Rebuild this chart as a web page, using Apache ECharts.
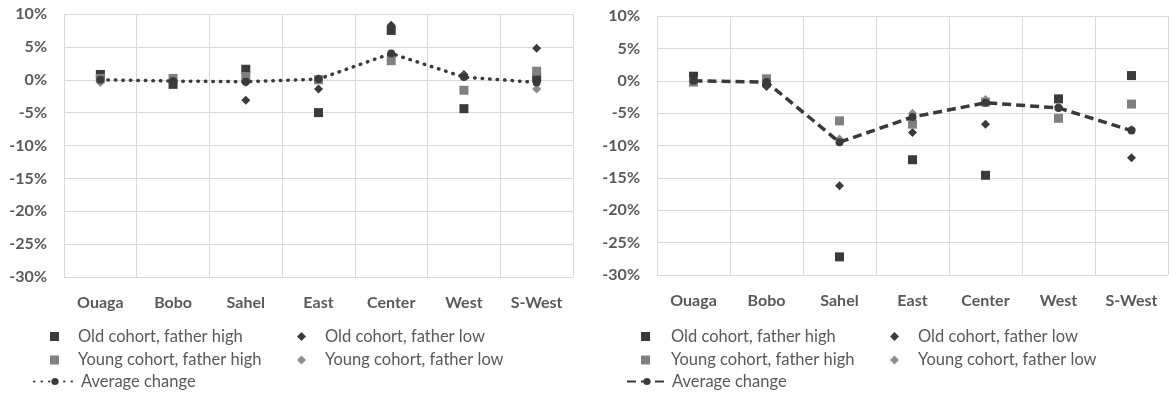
<!DOCTYPE html>
<html>
<head>
<meta charset="utf-8">
<script src="https://cdn.jsdelivr.net/npm/echarts@6/dist/echarts.min.js"></script>
<style>
  html, body { margin: 0; padding: 0; background: #fff; }
  #chart { width: 1169px; height: 394px; }
</style>
</head>
<body>
<div id="chart"></div>
<script>
// regions (categories)
const regions = ["Ouaga", "Bobo", "Sahel", "East", "Center", "West", "S-West"];

// left panel, change in %
const oldHighA = [0.8, -0.7, 1.6, -5.0, 7.5, -4.4, 0.3];
const oldLowA = [0.0, -0.3, -3.1, -1.4, 8.3, 0.8, 4.8];
const youngHighA = [0.2, 0.2, 0.5, 0.0, 2.9, -1.6, 1.3];
const youngLowA = [-0.4, -0.2, -0.4, 0.2, 3.8, 0.5, -1.4];
const avgA = [0.0, -0.2, -0.3, 0.1, 4.0, 0.4, -0.4];

// right panel, change in %
const oldHighB = [0.7, -0.2, -27.2, -12.2, -14.6, -2.8, 0.8];
const oldLowB = [0.0, -0.9, -16.2, -8.0, -6.7, -4.0, -11.9];
const youngHighB = [-0.2, 0.3, -6.2, -6.7, -3.3, -5.8, -3.6];
const youngLowB = [-0.1, -0.2, -9.0, -5.0, -2.9, -4.0, -7.5];
const avgB = [0.0, -0.2, -9.5, -5.6, -3.4, -4.2, -7.7];

// y axis ticks
const yMin = -30, yMax = 10, yStep = 5;

const NAMES = {
  oh: "Old cohort, father high",
  ol: "Old cohort, father low",
  yh: "Young cohort, father high",
  yl: "Young cohort, father low",
  avg: "Average change"
};

const DARK = "#3a3a3a";
const GREY = "#808080";
const LIGHT = "#8c8c8c";
const GRID = "#d9d9d9";
const TXT = "#595959";
const FONT = "Lato";

function scatter(name, data, idx, symbol, size, color) {
  return {
    name, type: "scatter", data, xAxisIndex: idx, yAxisIndex: idx,
    symbol, symbolSize: size, itemStyle: { color, opacity: 1 }
  };
}

function avgLine(data, idx, dash, width) {
  return {
    name: NAMES.avg, type: "line", data, xAxisIndex: idx, yAxisIndex: idx,
    symbol: "circle", symbolSize: 8, showSymbol: true,
    itemStyle: { color: DARK },
    lineStyle: { color: DARK, width, type: dash, cap: dash[0] < 1 ? "round" : "butt" }
  };
}

function xAxis(idx) {
  return {
    type: "category", gridIndex: idx, data: regions,
    axisTick: { show: false },
    axisLine: { lineStyle: { color: GRID } },
    splitLine: { show: true, lineStyle: { color: GRID } },
    axisLabel: { color: TXT, fontFamily: FONT, fontSize: 16, fontWeight: "bold", margin: 18 }
  };
}

function yAxis(idx) {
  return {
    type: "value", gridIndex: idx, min: yMin, max: yMax, interval: yStep,
    axisLine: { show: false }, axisTick: { show: false },
    splitLine: { lineStyle: { color: GRID } },
    axisLabel: { color: TXT, fontFamily: FONT, fontSize: 16, fontWeight: "bold",
      margin: 17, formatter: "{value}%" }
  };
}

function legendText(pad) {
  return {
    color: TXT, fontFamily: FONT, fontSize: 16.5, lineHeight: 16,
    rich: { p: { width: pad } }
  };
}

function legendCol(names, left, top, icon, pad) {
  return {
    orient: "vertical", left, top, padding: 0, itemGap: 6.5,
    itemWidth: 9, itemHeight: 9, icon,
    formatter: "{p| }{name}",
    textStyle: legendText(pad),
    data: names
  };
}

function legendAvg(left, width, dash, cap) {
  return {
    left, top: 373, padding: 0, itemWidth: width, itemHeight: 9,
    formatter: "{name}",
    textStyle: legendText(0),
    data: [{ name: NAMES.avg, lineStyle: { type: dash, cap } }]
  };
}

const chart = echarts.init(document.getElementById("chart"));
chart.setOption({
  animation: false,
  grid: [
    { left: 64, top: 14, width: 509, height: 263 },
    { left: 657, top: 16, width: 511, height: 259 }
  ],
  xAxis: [xAxis(0), xAxis(1)],
  yAxis: [yAxis(0), yAxis(1)],
  legend: [
    legendCol([NAMES.oh, NAMES.yh], 50, 328, "rect", 14),
    legendCol([NAMES.ol, NAMES.yl], 297, 328, "diamond", 14),
    legendAvg(33, 42, [0.5, 7], "round"),
    legendCol([NAMES.oh, NAMES.yh], 641, 328, "rect", 16),
    legendCol([NAMES.ol, NAMES.yl], 890, 328, "diamond", 14),
    legendAvg(626, 40, [9, 5], "butt")
  ],
  series: [
    scatter(NAMES.oh, oldHighA, 0, "rect", 9, DARK),
    scatter(NAMES.ol, oldLowA, 0, "diamond", 9, DARK),
    scatter(NAMES.yh, youngHighA, 0, "rect", 9, GREY),
    scatter(NAMES.yl, youngLowA, 0, "diamond", 9, LIGHT),
    avgLine(avgA, 0, [0.5, 7], 3.5),
    scatter(NAMES.oh, oldHighB, 1, "rect", 9, DARK),
    scatter(NAMES.ol, oldLowB, 1, "diamond", 9, DARK),
    scatter(NAMES.yh, youngHighB, 1, "rect", 9, GREY),
    scatter(NAMES.yl, youngLowB, 1, "diamond", 9, LIGHT),
    avgLine(avgB, 1, [9, 5], 3.5)
  ]
});
</script>
</body>
</html>
